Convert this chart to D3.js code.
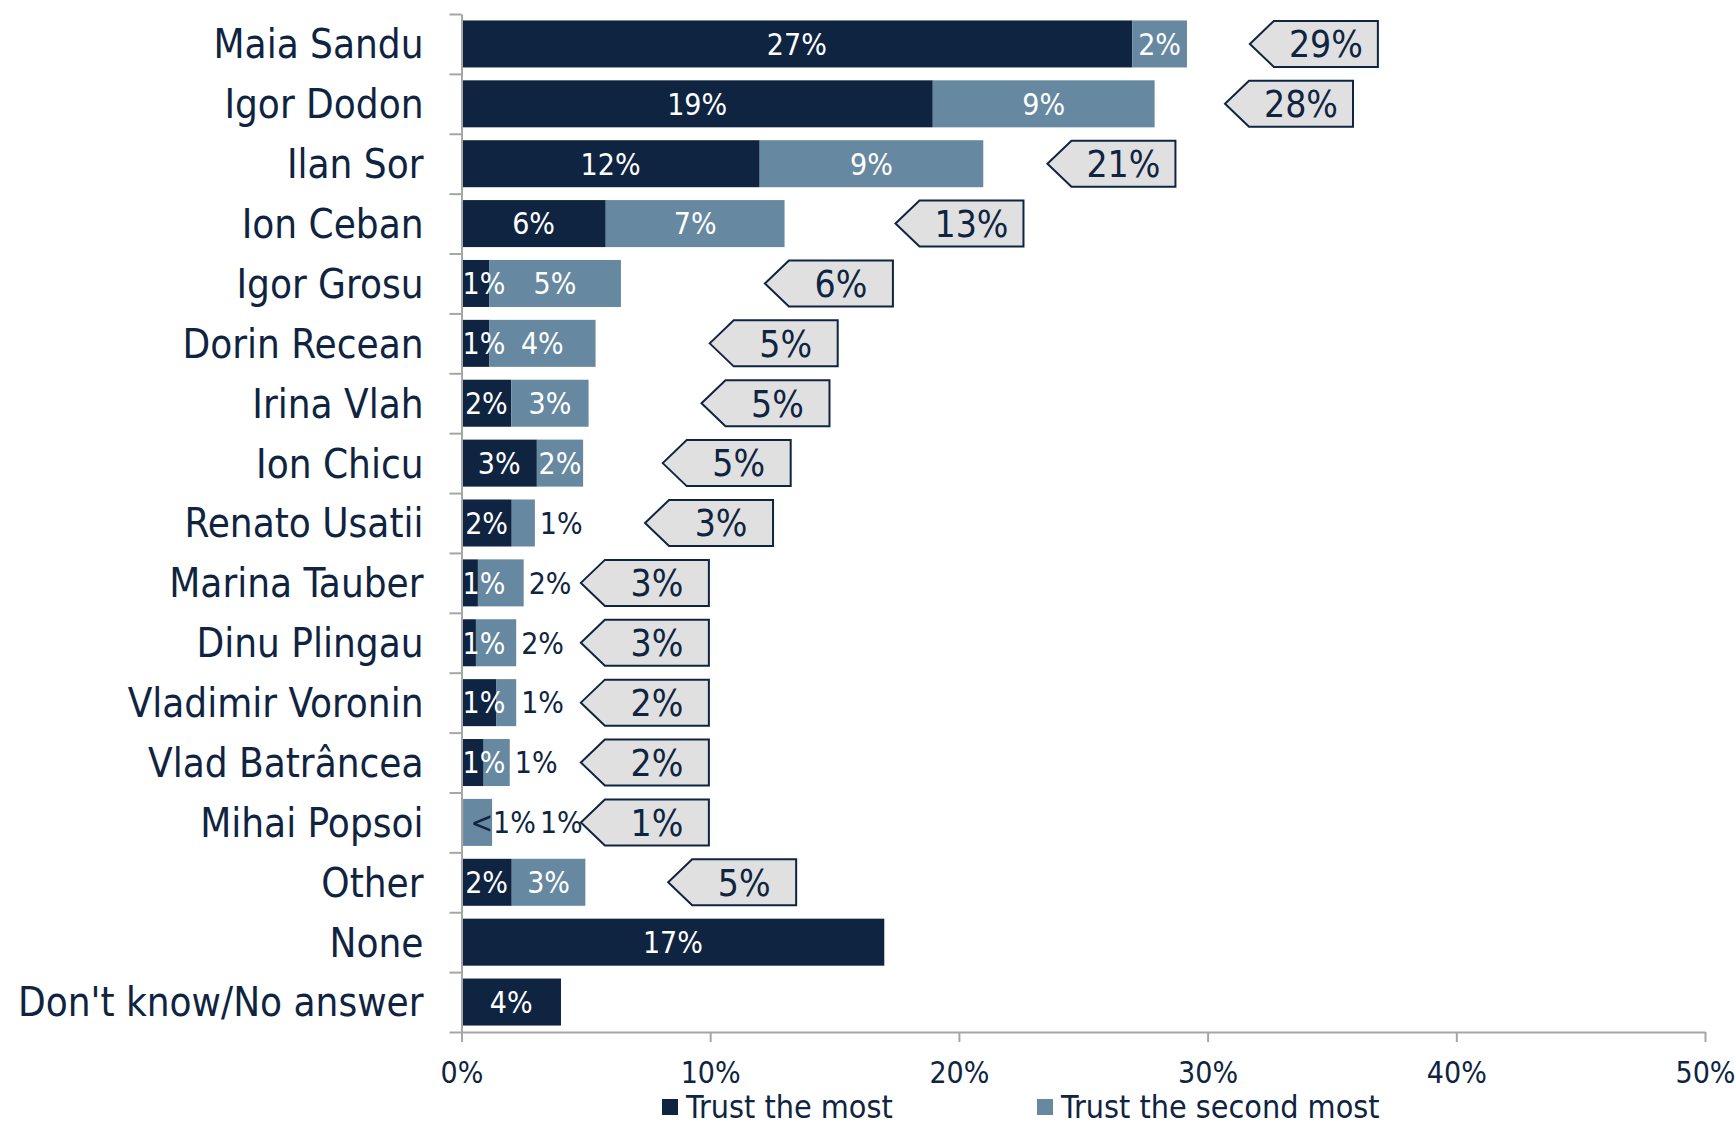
<!DOCTYPE html>
<html>
<head>
<meta charset="utf-8">
<script src="https://cdn.jsdelivr.net/npm/d3@7"></script>
<style>
  body { margin: 0; background: #fff; }
  svg text { font-family: "DejaVu Sans Condensed", "DejaVu Sans", sans-serif; font-stretch: condensed; }
</style>
</head>
<body>
<div id="chart"></div>
<script>
// chart data
let categories = ["Maia Sandu", "Igor Dodon", "Ilan Sor", "Ion Ceban", "Igor Grosu", "Dorin Recean",
	"Irina Vlah", "Ion Chicu", "Renato Usatii", "Marina Tauber", "Dinu Plingau", "Vladimir Voronin",
	"Vlad Batrâncea", "Mihai Popsoi", "Other", "None", "Don't know/No answer"];
let trustMost = [26.97, 18.95, 11.99, 5.80, 1.11, 1.11, 2.00, 3.03, 2.02, 0.66, 0.58, 1.39, 0.89, 0.08, 2.02, 17.0, 4.0];
let trustSecond = [2.20, 8.92, 8.99, 7.19, 5.30, 4.28, 3.11, 1.86, 0.93, 1.84, 1.62, 0.81, 1.05, 1.15, 2.96, 0, 0];
let mostLabels = ["27%", "19%", "12%", "6%", "1%", "1%", "2%", "3%", "2%", "1%", "1%", "1%", "1%", "<1%", "2%", "17%", "4%"];
let secondLabels = ["2%", "9%", "9%", "7%", "5%", "4%", "3%", "2%", "1%", "2%", "2%", "1%", "1%", "1%", "3%", "", ""];
let totalLabels = ["29%", "28%", "21%", "13%", "6%", "5%", "5%", "5%", "3%", "3%", "3%", "2%", "2%", "1%", "5%", "", ""];
// where each total callout points to, in % on the x axis
let calloutAt = [31.7, 30.7, 23.56, 17.45, 12.2, 9.98, 9.65, 8.09, 7.38, 4.8, 4.8, 4.8, 4.8, 4.8, 8.31, null, null];
// "in" = centred in the segment, "out" = after the bar end, "over" = dark text over the bar start
let mostPlace = ["in", "in", "in", "in", "in", "in", "in", "in", "in", "in", "in", "in", "in", "over", "in", "in", "in"];
let secondPlace = ["in", "in", "in", "in", "in", "in", "in", "in", "out", "out", "out", "out", "out", "out", "in", "in", "in"];
let xTicks = [0, 10, 20, 30, 40, 50];
let seriesNames = ["Trust the most", "Trust the second most"];

let width = 1735,
	height = 1126;
let navy = "#0f2441",
	steel = "#6688a0";

let rows = categories.map((c, i) => ({
	name: c,
	most: trustMost[i],
	second: trustSecond[i],
	total: trustMost[i] + trustSecond[i],
	i: i
}));

let svg = d3.select("#chart").append("svg")
	.attr("width", width)
	.attr("height", height);

let x = d3.scaleLinear()
	.domain([0, 50])
	.range([461.5, 1705]);

let plotTop = 14, plotBottom = 1032;

let y = d3.scaleBand()
	.domain(categories)
	.range([plotTop, plotBottom])
	.paddingInner(0.215)
	.paddingOuter(0.1075);

// bars
let barG = svg.append("g");
barG.selectAll("rect.most")
	.data(rows)
	.enter()
	.append("rect")
	.attr("class", "most")
	.attr("x", x(0))
	.attr("y", d => y(d.name))
	.attr("width", d => x(d.most) - x(0))
	.attr("height", y.bandwidth())
	.attr("fill", navy);

barG.selectAll("rect.second")
	.data(rows.filter(d => d.second > 0))
	.enter()
	.append("rect")
	.attr("class", "second")
	.attr("x", d => x(d.most))
	.attr("y", d => y(d.name))
	.attr("width", d => x(d.total) - x(d.most))
	.attr("height", y.bandwidth())
	.attr("fill", steel);

// axes
let xAxis = d3.axisBottom(x)
	.tickValues(xTicks)
	.tickFormat(d => d + "%")
	.tickSize(10)
	.tickSizeOuter(0);

let gx = svg.append("g")
	.attr("transform", "translate(0," + plotBottom + ")")
	.call(xAxis);
gx.select(".domain").attr("stroke", "#a6a6a6").attr("stroke-width", 2);
gx.selectAll(".tick line").attr("stroke", "#a6a6a6").attr("stroke-width", 2);
gx.selectAll(".tick text")
	.attr("y", 51)
	.attr("dy", 0)
	.attr("fill", navy)
	.style("font-size", "30px");

// category labels
let yAxis = d3.axisLeft(y).tickSize(0).tickPadding(38);
let gy = svg.append("g")
	.attr("transform", "translate(" + x(0) + ",0)")
	.call(yAxis);
gy.select(".domain").remove();
gy.selectAll(".tick text")
	.attr("fill", navy)
	.attr("dy", "0.36em")
	.style("font-size", "40px");

// boundary ticks between categories
let slot = d3.scaleLinear().domain([0, categories.length]).range([plotTop, plotBottom]);
let gy2 = svg.append("g")
	.attr("transform", "translate(" + x(0) + ",0)")
	.call(d3.axisLeft(slot).ticks(categories.length).tickFormat("").tickSize(12).tickSizeOuter(0));
gy2.select(".domain").attr("stroke", "#a6a6a6").attr("stroke-width", 2);
gy2.selectAll(".tick line").attr("stroke", "#a6a6a6").attr("stroke-width", 2);

// segment labels
let labelG = svg.append("g").style("font-size", "30px");
rows.forEach(d => {
	let cy = y(d.name) + y.bandwidth() / 2;
	let lastEnd = x(d.total);
	let t1 = labelG.append("text")
		.attr("y", cy)
		.attr("dy", "0.36em")
		.text(mostLabels[d.i]);
	let w1 = t1.node().getComputedTextLength();
	if (mostPlace[d.i] == "over") {
		t1.attr("x", x(0) + 9).attr("fill", navy);
		lastEnd = Math.max(lastEnd, x(0) + 9 + w1);
	} else {
		let cx = (x(0) + x(d.most)) / 2;
		cx = Math.max(cx, x(0) + 1 + w1 / 2);
		t1.attr("x", cx).attr("text-anchor", "middle").attr("fill", "#fff");
	}
	if (secondLabels[d.i]) {
		let t2 = labelG.append("text")
			.attr("y", cy)
			.attr("dy", "0.36em")
			.text(secondLabels[d.i]);
		if (secondPlace[d.i] == "out") {
			let gap = mostPlace[d.i] == "over" ? 4 : 5;
			t2.attr("x", lastEnd + gap).attr("fill", navy);
		} else {
			t2.attr("x", (x(d.most) + x(d.total)) / 2)
				.attr("text-anchor", "middle")
				.attr("fill", "#fff");
		}
	}
});

// total callouts
let calloutW = 128, notch = 24;
let callouts = svg.append("g")
	.selectAll("g")
	.data(rows.filter(d => calloutAt[d.i] != null))
	.enter()
	.append("g");

callouts.append("path")
	.attr("d", d => {
		let cy = y(d.name) + y.bandwidth() / 2;
		let h = y.bandwidth() - 1;
		let x0 = x(calloutAt[d.i]);
		return "M" + x0 + "," + cy +
			"L" + (x0 + notch) + "," + (cy - h / 2) +
			"L" + (x0 + calloutW) + "," + (cy - h / 2) +
			"L" + (x0 + calloutW) + "," + (cy + h / 2) +
			"L" + (x0 + notch) + "," + (cy + h / 2) + "Z";
	})
	.attr("fill", "#e0e0e0")
	.attr("stroke", navy)
	.attr("stroke-width", 2);

callouts.append("text")
	.attr("x", d => x(calloutAt[d.i]) + (notch + calloutW) / 2)
	.attr("y", d => y(d.name) + y.bandwidth() / 2)
	.attr("dy", "0.36em")
	.attr("text-anchor", "middle")
	.attr("fill", navy)
	.style("font-size", "37px")
	.text(d => totalLabels[d.i]);

// legend
let legendX = [662, 1037];
let legend = svg.append("g")
	.selectAll("g")
	.data(seriesNames)
	.enter()
	.append("g")
	.attr("transform", (d, i) => "translate(" + legendX[i] + ",1098)");
legend.append("rect")
	.attr("y", 1)
	.attr("width", 16)
	.attr("height", 16)
	.attr("fill", (d, i) => i == 0 ? navy : steel);
legend.append("text")
	.attr("x", 24)
	.attr("y", 8)
	.attr("dy", "0.36em")
	.attr("fill", navy)
	.style("font-size", "32px")
	.text(d => d);
</script>
</body>
</html>
